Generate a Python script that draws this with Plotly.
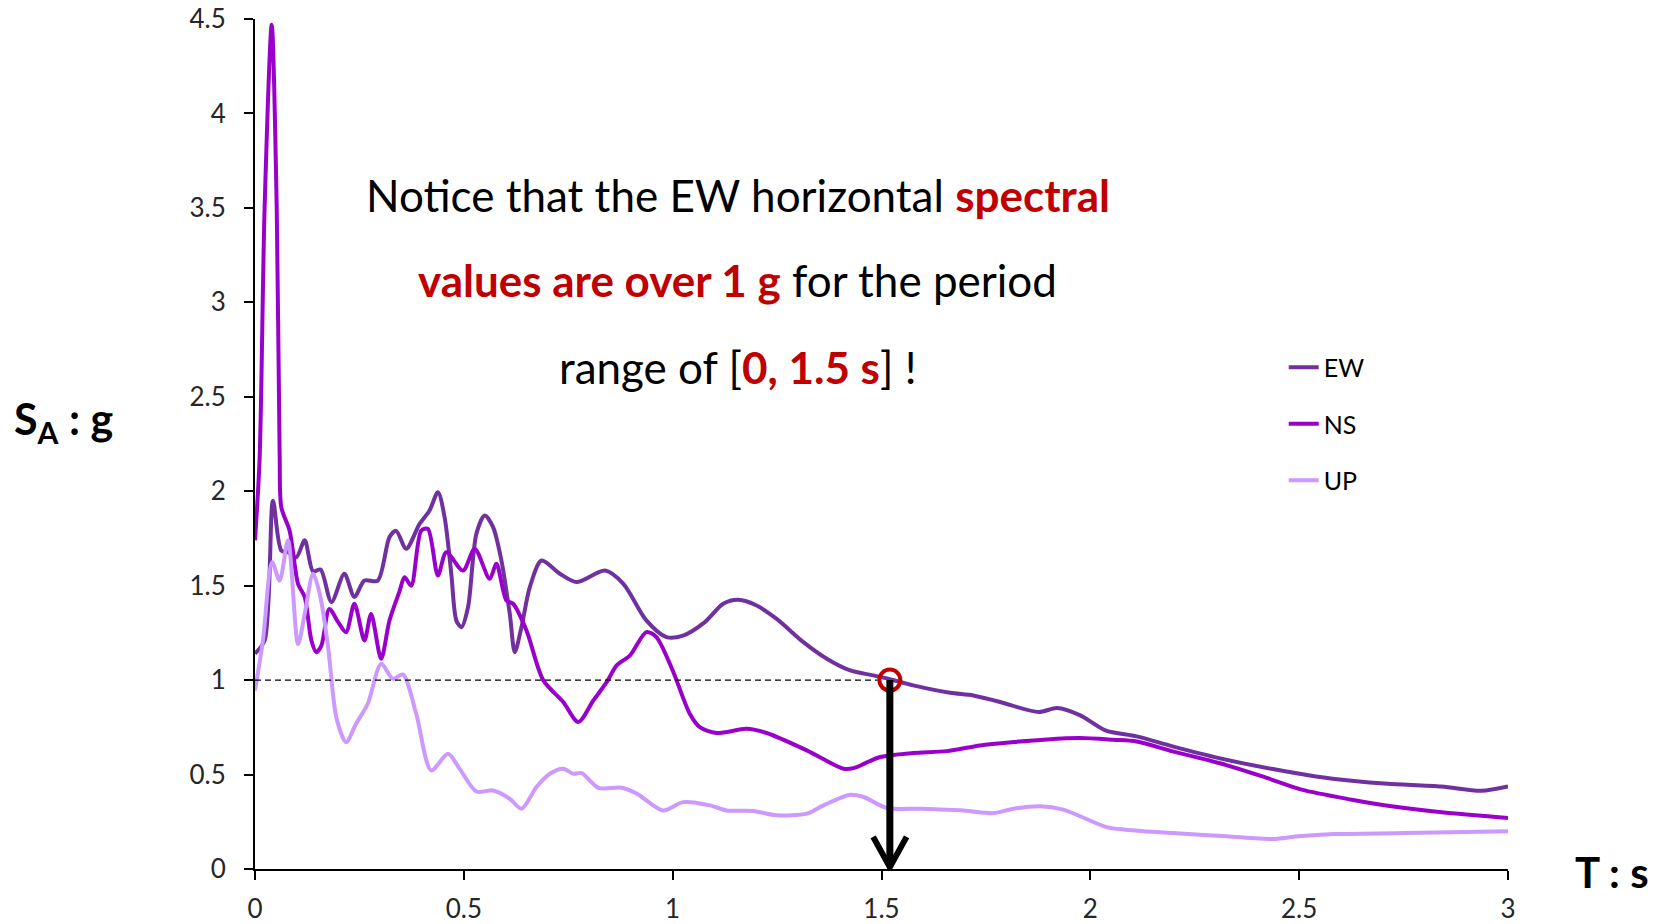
import plotly.graph_objects as go

# Response spectra (period T in s, spectral acceleration SA in g)
ew_t = [0, 0.023, 0.043, 0.063, 0.079, 0.099, 0.119, 0.139, 0.157, 0.183, 0.214, 0.238,
        0.262, 0.294, 0.322, 0.338, 0.362, 0.394, 0.418, 0.438, 0.454, 0.47, 0.482, 0.494,
        0.51, 0.53, 0.55, 0.57, 0.59, 0.61, 0.622, 0.638, 0.658, 0.686, 0.73, 0.77, 0.838,
        0.882, 0.937, 0.985, 1.025, 1.077, 1.121, 1.157, 1.201, 1.249, 1.313, 1.369, 1.425,
        1.48, 1.516, 1.576, 1.664, 1.72, 1.784, 1.876, 1.92, 1.976, 2.036, 2.111, 2.197,
        2.308, 2.437, 2.54, 2.626, 2.712, 2.841, 2.936, 3.0]
ew_sa = [1.14, 1.21, 1.95, 1.686, 1.677, 1.65, 1.74, 1.575, 1.585, 1.413, 1.563, 1.44,
         1.527, 1.527, 1.757, 1.79, 1.695, 1.827, 1.898, 1.995, 1.862, 1.563, 1.316, 1.28,
         1.386, 1.774, 1.871, 1.81, 1.633, 1.351, 1.148, 1.28, 1.492, 1.633, 1.563, 1.519, 1.58,
         1.51, 1.316, 1.228, 1.236, 1.307, 1.404, 1.425, 1.395, 1.324, 1.201, 1.113, 1.051,
         1.025, 1.007, 0.972, 0.933, 0.919, 0.884, 0.831, 0.852, 0.813, 0.734, 0.702, 0.649,
         0.587, 0.529, 0.49, 0.467, 0.451, 0.437, 0.414, 0.437]

ns_t = [0, 0.011, 0.023, 0.04, 0.052, 0.059, 0.063, 0.083, 0.103, 0.119, 0.135, 0.147,
        0.159, 0.178, 0.199, 0.218, 0.238, 0.262, 0.278, 0.302, 0.322, 0.346, 0.358, 0.374,
        0.398, 0.414, 0.438, 0.458, 0.498, 0.526, 0.562, 0.578, 0.602, 0.618, 0.65, 0.69,
        0.738, 0.774, 0.81, 0.842, 0.866, 0.898, 0.937, 0.961, 1.0, 1.041, 1.065, 1.105,
        1.177, 1.225, 1.321, 1.409, 1.433, 1.497, 1.576, 1.656, 1.736, 1.816, 1.896, 1.975,
        2.055, 2.111, 2.197, 2.308, 2.412, 2.506, 2.626, 2.721, 2.841, 3.0]
ns_sa = [1.74, 2.17, 3.5, 4.47, 3.5, 2.2, 1.915, 1.79, 1.51, 1.44, 1.21, 1.148,
         1.183, 1.377, 1.307, 1.254, 1.404, 1.21, 1.35, 1.113, 1.316, 1.47, 1.545, 1.5,
         1.792, 1.8, 1.554, 1.677, 1.58, 1.695, 1.536, 1.616, 1.421, 1.404, 1.263, 1.0,
         0.884, 0.778, 0.892, 0.989, 1.078, 1.131, 1.254, 1.228, 1.051, 0.822, 0.751, 0.72,
         0.742, 0.72, 0.628, 0.531, 0.534, 0.593, 0.614, 0.624, 0.654, 0.672, 0.686, 0.693,
         0.684, 0.675, 0.623, 0.561, 0.49, 0.42, 0.367, 0.332, 0.3, 0.27]

up_t = [0, 0.019, 0.041, 0.059, 0.079, 0.103, 0.119, 0.139, 0.155, 0.175, 0.195, 0.218,
        0.242, 0.27, 0.302, 0.33, 0.354, 0.386, 0.422, 0.462, 0.49, 0.53, 0.57, 0.61, 0.638,
        0.674, 0.706, 0.738, 0.762, 0.782, 0.822, 0.878, 0.914, 0.977, 1.025, 1.089, 1.129,
        1.193, 1.249, 1.321, 1.361, 1.425, 1.457, 1.513, 1.592, 1.696, 1.768, 1.816, 1.88,
        1.935, 2.039, 2.085, 2.197, 2.326, 2.437, 2.497, 2.583, 2.755, 3.0]
up_sa = [0.945, 1.21, 1.624, 1.527, 1.74, 1.19, 1.35, 1.563, 1.457, 1.175, 0.8, 0.672,
         0.769, 0.875, 1.086, 1.007, 1.03, 0.822, 0.522, 0.61, 0.53, 0.41, 0.416, 0.372, 0.319,
         0.434, 0.504, 0.531, 0.504, 0.508, 0.43, 0.43, 0.399, 0.31, 0.354, 0.337, 0.31,
         0.307, 0.284, 0.293, 0.337, 0.393, 0.381, 0.323, 0.319, 0.31, 0.296, 0.319, 0.332,
         0.314, 0.222, 0.208, 0.19, 0.173, 0.159, 0.173, 0.185, 0.19, 0.2]

series = [("EW", ew_t, ew_sa, "#7030A0"),
          ("NS", ns_t, ns_sa, "#9900CC"),
          ("UP", up_t, up_sa, "#CC99FF")]

# highlighted point: EW drops to 1 g at T = 1.52 s
t_mark, sa_mark = 1.52, 1.0

FONT = "Lato"
RED = "#C00000"

fig = go.Figure()
for name, t, sa, col in series:
    fig.add_trace(go.Scatter(x=t, y=sa, name=name, mode="lines", legendgroup=name,
                             line=dict(color=col, width=4, shape="spline", smoothing=0.8)))

fig.add_trace(go.Scatter(x=[t_mark], y=[sa_mark], mode="markers", showlegend=False,
                         marker=dict(symbol="circle-open", size=21, color=RED,
                                     line=dict(width=4, color=RED))))

# dashed reference line at 1 g and the arrow down to the period axis
fig.add_shape(type="line", x0=0, x1=t_mark - 0.03, y0=sa_mark, y1=sa_mark,
              line=dict(color="black", width=1.2, dash="6px,4px"))
fig.add_shape(type="line", x0=t_mark, x1=t_mark, y0=sa_mark, y1=0.02,
              line=dict(color="black", width=7))
fig.add_shape(type="path",
              path=f"M {t_mark - 0.04},0.17 L {t_mark},0.01 L {t_mark + 0.04},0.17",
              line=dict(color="black", width=6))

lines = [
    "Notice that the EW horizontal <span style='color:%s'><b>spectral</b></span>" % RED,
    "<span style='color:%s'><b>values are over 1 g</b></span> for the period" % RED,
    "range of [<span style='color:%s'><b>0, 1.5 s</b></span>] !" % RED,
]
for txt, yy in zip(lines, [3.57, 3.12, 2.66]):
    fig.add_annotation(x=1.156, y=yy, xref="x", yref="y", text=txt, showarrow=False,
                       xanchor="center", yanchor="middle",
                       font=dict(family=FONT, size=44, color="black"))

fig.add_annotation(x=-0.194, y=2.37 / 4.5, xref="paper", yref="paper",
                   text="<b>S<sub>A</sub> : g</b>", showarrow=False,
                   xanchor="left", yanchor="middle",
                   font=dict(family=FONT, size=43, color="black"))
fig.add_annotation(x=1.052, y=-0.004, xref="paper", yref="paper",
                   text="<b>T : s</b>", showarrow=False,
                   xanchor="left", yanchor="middle",
                   font=dict(family=FONT, size=42, color="black"))

axis_style = dict(showline=True, linecolor="black", linewidth=2, ticks="outside",
                  ticklen=9, tickwidth=2, tickcolor="black", showgrid=False,
                  zeroline=False, automargin=False,
                  tickfont=dict(family=FONT, size=26, color="#262626"))

fig.update_xaxes(range=[0, 3], dtick=0.5, tick0=0, ticklabelstandoff=7, **axis_style)
fig.update_yaxes(range=[0, 4.5], dtick=0.5, tick0=0, ticklabelstandoff=13, **axis_style)

fig.update_layout(
    width=1663, height=924,
    margin=dict(l=255, r=155, t=19, b=55, autoexpand=False),
    plot_bgcolor="white", paper_bgcolor="white",
    font=dict(family=FONT),
    legend=dict(x=0.821, y=0.617, xanchor="left", yanchor="top",
                font=dict(family=FONT, size=25, color="black"),
                tracegroupgap=21, bgcolor="rgba(0,0,0,0)"),
    showlegend=True,
)

fig.write_html("out.html", config={"displayModeBar": False},
               post_script="document.body.style.margin='0';")
